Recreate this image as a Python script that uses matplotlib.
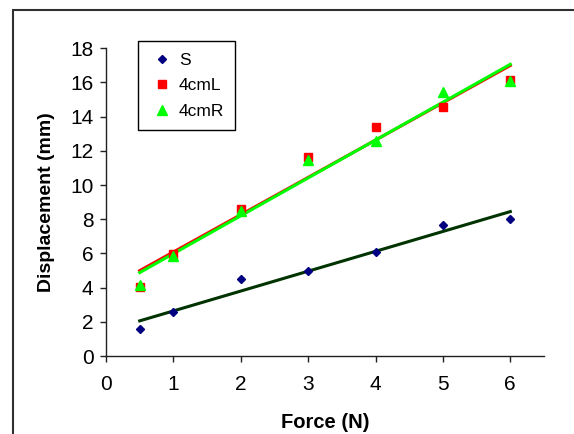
import numpy as np
import matplotlib.pyplot as plt
from matplotlib.patches import Rectangle

plt.rcParams['font.family'] = ['Liberation Sans', 'DejaVu Sans']

force = [0.5, 1, 2, 3, 4, 5, 6]
s_disp = [1.56, 2.57, 4.48, 4.99, 6.06, 7.66, 7.99]
l_disp = [4.02, 5.96, 8.58, 11.62, 13.37, 14.54, 16.14]
r_disp = [4.13, 5.85, 8.50, 11.46, 12.59, 15.42, 16.08]

fig = plt.figure(figsize=(5.74, 4.34), dpi=100)

# outer chart frame (only left/top edges show in the picture)
fig.patches.append(Rectangle((13 / 574, -0.1), 1.2, 1.1 - 10 / 434,
                             transform=fig.transFigure, fill=False,
                             edgecolor='#303030', linewidth=1.5))

ax = fig.add_axes([106 / 574, 1 - 356 / 434, 438 / 574, 307.7 / 434])

# linear trendlines over the data range
x = np.array(force)
xfit = np.array([x.min(), x.max()])
p_s = np.polyfit(x, s_disp, 1)
p_l = np.polyfit(x, l_disp, 1)
p_r = np.polyfit(x, r_disp, 1)

ax.plot(xfit, np.polyval(p_s, xfit), color='#003300', lw=2.2, zorder=2)
ax.plot(xfit, np.polyval(p_l, xfit), color='#ff0000', lw=2.2, zorder=2)
ax.plot(xfit, np.polyval(p_r, xfit), color='#00ff00', lw=2.2, zorder=2)

ax.plot(force, s_disp, 'D', color='#000080', ms=4.5, ls='none', label='S', zorder=3)
ax.plot(force, l_disp, 's', color='#ff0000', ms=5.5, ls='none', label='4cmL', zorder=3)
ax.plot(force, r_disp, '^', color='#00ff00', ms=6.5, ls='none', label='4cmR', zorder=3)

ax.set_xlim(0, 6.5)
ax.set_ylim(0, 18)
ax.set_xticks(range(0, 7))
ax.set_yticks(range(0, 19, 2))
ax.spines['top'].set_visible(False)
ax.spines['right'].set_visible(False)
for sp in ('left', 'bottom'):
    ax.spines[sp].set_linewidth(1.0)
    ax.spines[sp].set_color('#202020')
ax.tick_params(axis='both', direction='out', length=4, width=1, color='#202020',
               labelsize=15)
ax.tick_params(axis='x', pad=10)
ax.tick_params(axis='y', pad=5)

ax.set_xlabel('Force (N)', fontsize=14.5, fontweight='bold', labelpad=13)
ax.set_ylabel('Displacement (mm)', fontsize=14, fontweight='bold', labelpad=11)

leg = ax.legend(loc='upper left', bbox_to_anchor=(32 / 438, 1 + 7 / 307.7),
                fontsize=12.5, frameon=True, fancybox=False, framealpha=1,
                edgecolor='black', handlelength=1.5, handletextpad=0.2,
                borderpad=0.65, labelspacing=0.6, borderaxespad=0)
leg.get_frame().set_linewidth(1.0)

fig.savefig('out.png', dpi=100)
